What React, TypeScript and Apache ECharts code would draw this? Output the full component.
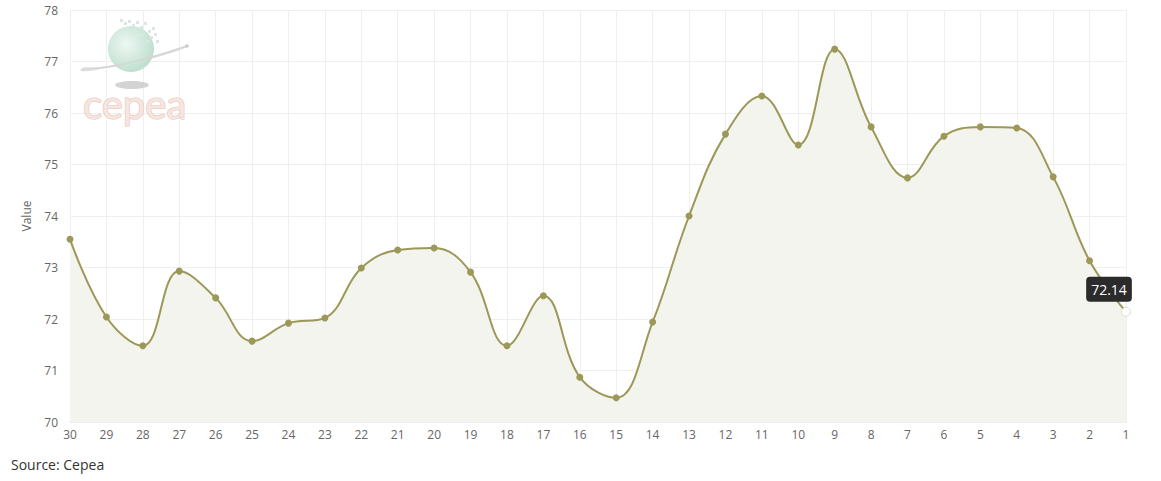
import React, { useEffect, useRef } from "react";
import * as echarts from "echarts";

const categories = ["30","29","28","27","26","25","24","23","22","21","20","19","18","17","16","15","14","13","12","11","10","9","8","7","6","5","4","3","2","1"];
const values = [73.55,72.04,71.48,72.93,72.41,71.57,71.92,72.02,72.99,73.34,73.38,72.91,71.48,72.45,70.87,70.47,71.94,74.0,75.59,76.33,75.38,77.24,75.73,74.74,75.55,75.73,75.71,74.76,73.13,72.14];
const yMin = 70;
const yMax = 78;
const yInterval = 1;
const yAxisName = "Value";
const sourceText = "Source: Cepea";
const logoText = "cepea";

export default function App() {
  const ref = useRef<HTMLDivElement>(null);
  useEffect(() => {
    const chart = echarts.init(ref.current!, null, { renderer: "svg" });
    const lastIdx = values.length - 1;
    const data = values.map((v, i) =>
      i === lastIdx
        ? {
            value: v,
            symbolSize: 9,
            itemStyle: { color: "#ffffff", borderColor: "#dddddd", borderWidth: 1 },
            label: {
              show: true,
              position: "top",
              distance: 5,
              offset: [-17, 0],
              formatter: (p: any) => String(p.value.toFixed(2)),
              backgroundColor: "#2b2b2b",
              borderRadius: 4,
              padding: [6, 5, 5, 5],
              color: "#ffffff",
              fontSize: 14,
              fontFamily: "Open Sans",
            },
          }
        : v
    );
    const dots: any[] = [];
    const dotPos = [[120,19],[124,22],[128,20],[132,24],[136,21],[140,26],[144,22],[148,30],[152,27],[126,27],[134,29],[142,33],[150,36],[146,40],[138,34],[130,31],[154,33],[156,40]];
    dotPos.forEach(([x, y]) =>
      dots.push({ type: "rect", shape: { x, y, width: 3, height: 3 }, style: { fill: "#d7e9e0" }, z: 1 })
    );
    chart.setOption({
      animation: false,
      grid: { left: 70, right: 35, top: 10, bottom: 59 },
      xAxis: {
        type: "category",
        data: categories,
        boundaryGap: false,
        axisLine: { show: true, lineStyle: { color: "#eeeeee" } },
        axisTick: { show: false },
        axisLabel: { color: "#666666", fontSize: 12, fontFamily: "Open Sans", margin: 6 },
        splitLine: { show: true, lineStyle: { color: "#efefef" } },
      },
      yAxis: {
        type: "value",
        min: yMin,
        max: yMax,
        interval: yInterval,
        name: yAxisName,
        nameLocation: "middle",
        nameGap: 38,
        nameTextStyle: { color: "#666666", fontSize: 12, fontFamily: "Open Sans" },
        axisLine: { show: false },
        axisTick: { show: false },
        axisLabel: { color: "#666666", fontSize: 12, fontFamily: "Open Sans", margin: 12 },
        splitLine: { show: true, lineStyle: { color: "#efefef" } },
      },
      graphic: [
        {
          type: "bezierCurve",
          shape: { x1: 187, y1: 46, x2: 86, y2: 68, cpx1: 150, cpy1: 62, cpx2: 60, cpy2: 76 },
          style: { stroke: "#dcdcdc", lineWidth: 2, fill: null },
          z: 1,
        },
        {
          type: "circle",
          shape: { cx: 131, cy: 49, r: 23 },
          style: {
            fill: new echarts.graphic.RadialGradient(0.4, 0.4, 0.7, [
              { offset: 0, color: "#eef7f2" },
              { offset: 1, color: "#b9dccb" },
            ]),
          },
          z: 1,
        },
        ...dots,
        {
          type: "bezierCurve",
          shape: { x1: 86, y1: 68, x2: 187, y2: 46, cpx1: 110, cpy1: 70, cpx2: 150, cpy2: 58 },
          style: { stroke: "#d6d6d6", lineWidth: 1.5, fill: null },
          z: 1,
        },
        {
          type: "circle",
          shape: { cx: 187, cy: 46, r: 1.8 },
          style: { fill: "#cccccc" },
          z: 1,
        },
        {
          type: "ellipse",
          shape: { cx: 132, cy: 85, rx: 17, ry: 4 },
          style: { fill: "#d3d3d3" },
          z: 1,
        },
        {
          type: "text",
          x: 83,
          y: 104,
          style: {
            text: logoText,
            font: "40px Lato",
            verticalAlign: "middle",
            fill: "#f6e6e0",
            stroke: "#e8c3b7",
            lineWidth: 1.2,
          },
          z: 1,
        },
        {
          type: "text",
          left: 11,
          top: 457,
          style: { text: sourceText, font: "14px 'Open Sans'", fill: "#333333" },
        },
      ],
      series: [
        {
          type: "line",
          data,
          smooth: 0.4,
          symbol: "circle",
          symbolSize: 7,
          showSymbol: true,
          lineStyle: { color: "#9b9858", width: 2 },
          itemStyle: { color: "#9b9858" },
          areaStyle: { color: "#f4f4ef", opacity: 1 },
          z: 3,
        },
      ],
    });
    return () => chart.dispose();
  }, []);
  return <div ref={ref} style={{ width: 1161, height: 481, position: "absolute", left: 0, top: 0 }} />;
}
